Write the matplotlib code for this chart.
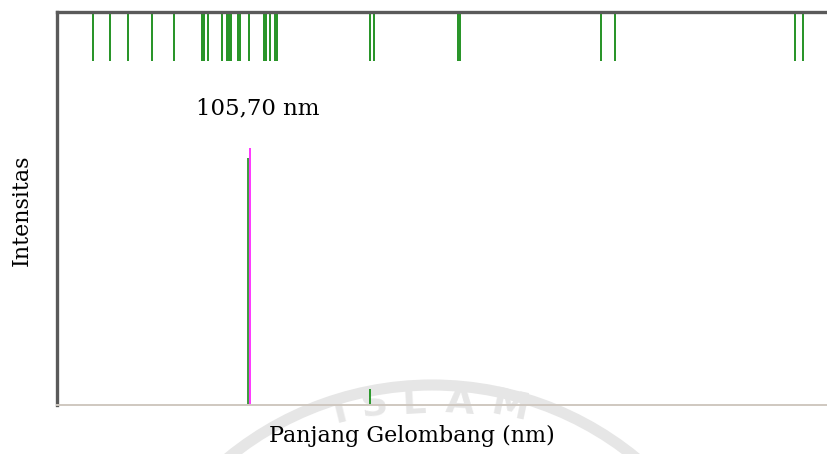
import matplotlib
matplotlib.use('Agg')
import matplotlib.pyplot as plt
from matplotlib.patches import Circle
from matplotlib.transforms import blended_transform_factory, IdentityTransform
import numpy as np

# line positions (nm) shown as markers along the top
marker_nm = [90.08, 91.75, 93.55, 95.95, 98.15, 100.95, 101.15, 101.52,
             102.95, 103.50, 103.70, 103.90, 104.60, 104.80, 105.70,
             107.20, 107.38, 107.75, 108.25, 108.45, 117.75, 118.15,
             126.55, 126.75, 140.82, 142.30, 160.25, 161.02]

# measured peaks
peak_nm = [105.70, 117.80]
peak_int = [0.654, 0.041]
label_nm = 105.70

W, H = 828, 454
fig = plt.figure(figsize=(W / 100, H / 100), dpi=100)
plt.rcParams['font.family'] = ['DejaVu Serif']

# faint watermark behind the chart
wm = '#e6e6e6'
fig.patches.append(Circle((432, H - 707), 322, transform=IdentityTransform(),
                          fill=False, ec=wm, lw=8, zorder=0))
for ch, x, y, rot in [('I', 340, 412, 14), ('S', 374, 406, 9), ('L', 414, 403, 3),
                      ('A', 460, 403, -4), ('M', 510, 407, -12)]:
    fig.text(x / W, (H - y) / H, ch, fontsize=27, color=wm, fontweight='bold',
             family='DejaVu Sans', ha='center', va='center', rotation=rot, zorder=0)

ax = fig.add_axes([57 / W, (H - 405) / H, 1 - 57 / W, 393 / H])
ax.set_zorder(1)
ax.patch.set_alpha(0)
ax.set_xlim(86.45, 163.55)
ax.set_ylim(0, 1)

trans = blended_transform_factory(ax.transData, ax.transAxes)
ax.vlines(marker_nm, 0.875, 1.0, color='#0a850a', lw=1.25, transform=trans)

# peaks: green with magenta edge for the labelled one
for nm, h in zip(peak_nm, peak_int):
    if nm == label_nm:
        ax.vlines(nm - 0.12, 0, h - 0.025, color='#0a800a', lw=1.1)
        ax.vlines(nm + 0.06, 0, h, color='#ff00ff', lw=1.1)
    else:
        ax.vlines(nm, 0, h, color='#0a8a0a', lw=1.2)

ax.text(label_nm + 0.85, peak_int[0] + 0.072,
        f'{label_nm:.2f} nm'.replace('.', ','), ha='center', va='bottom', fontsize=16.5)

ax.set_xticks([])
ax.set_yticks([])
for s in ('left', 'top'):
    ax.spines[s].set_color('#5a5a5a')
    ax.spines[s].set_linewidth(2.4)
ax.spines['bottom'].set_color('#cfc8c0')
ax.spines['bottom'].set_linewidth(1.4)
ax.spines['right'].set_visible(False)

fig.text(412 / W, (H - 436) / H, 'Panjang Gelombang (nm)', ha='center', va='center', fontsize=16)
fig.text(22 / W, (H - 210) / H, 'Intensitas', ha='center', va='center', rotation=90, fontsize=16)

fig.savefig('out.png', dpi=100)
